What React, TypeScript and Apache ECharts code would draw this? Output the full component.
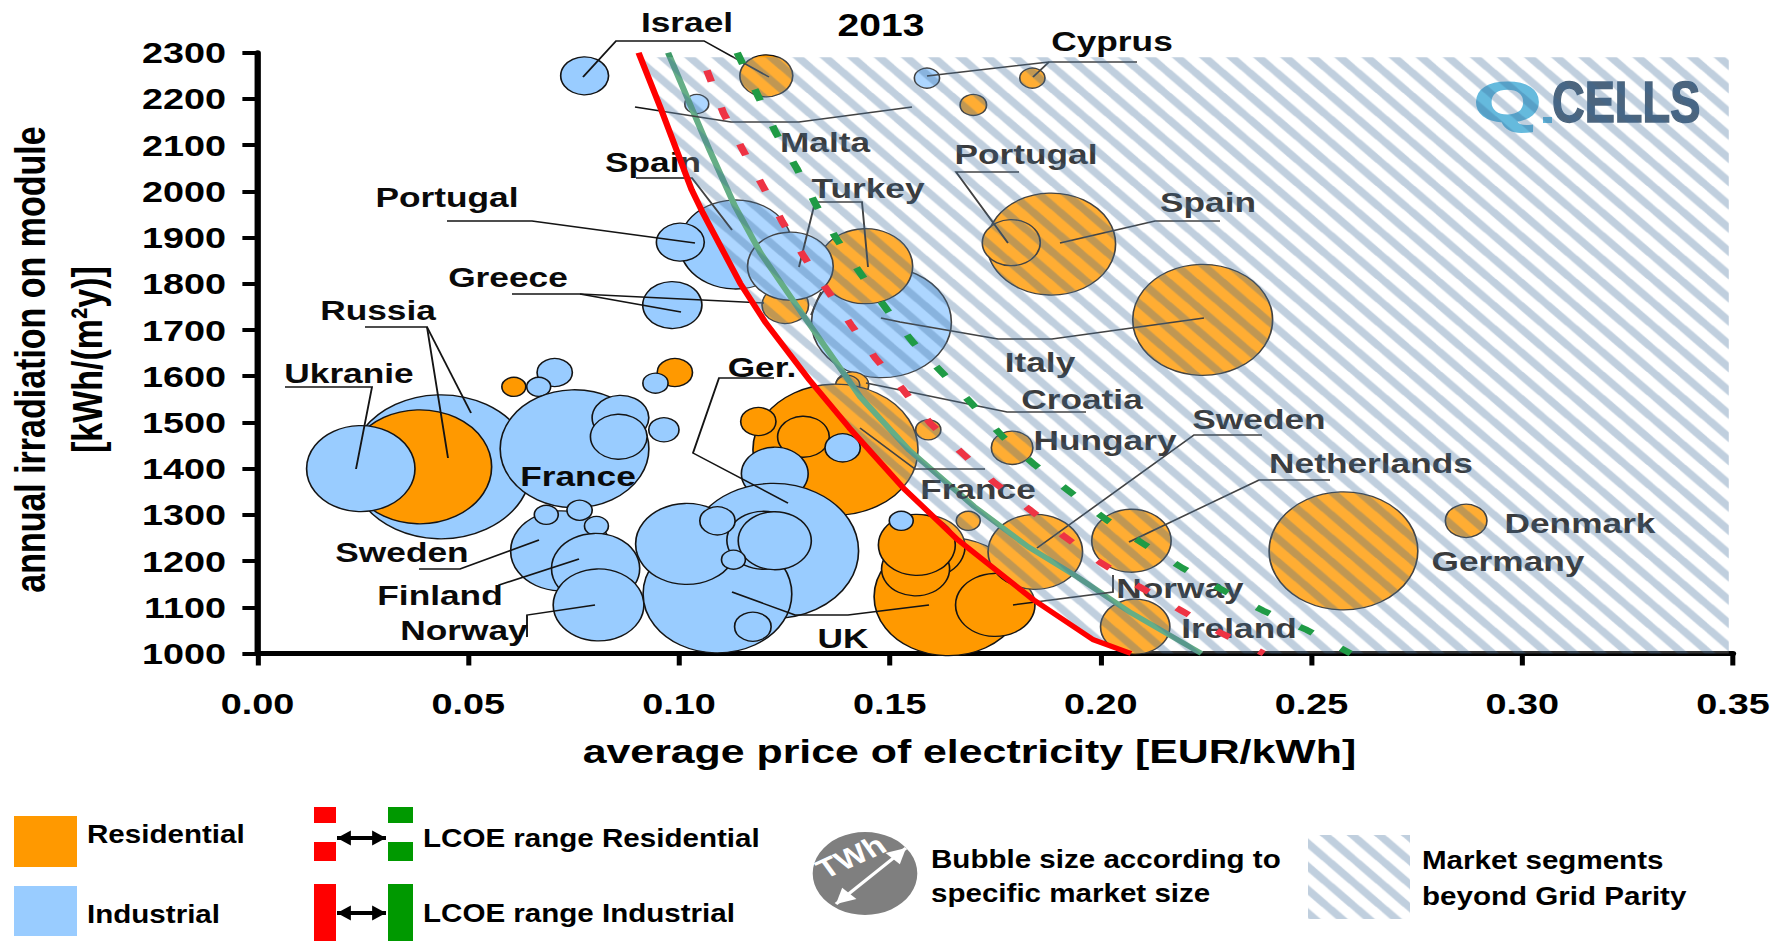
import React, { useEffect, useRef } from "react";
import * as echarts from "echarts";

// The drawing is laid out on a narrower canvas and widened by this factor.
const PAGE_WIDTH = 1787;
const PAGE_HEIGHT = 941;
const CANVAS_WIDTH = 1418;
const STRETCH = PAGE_WIDTH / CANVAS_WIDTH;

const xTickFormat = (v: number) => v.toFixed(2);
const yTickFormat = (v: number) => String(v);

// [average price EUR/kWh, irradiation kWh/(m²y), market size]
const industrialBack: number[][] = [
  [0.0435, 1404, 144], // Russia
  [0.148, 1717, 111], // Italy
  [0.1134, 1885, 89], // Spain
];

const residential: number[][] = [
  [0.1207, 2250, 42], // Israel
  [0.1838, 2245, 20], // Cyprus
  [0.1698, 2187, 21], // Malta
  [0.1883, 1886, 102], // Spain
  [0.1788, 1889, 46], // Portugal
  [0.2242, 1722, 111], // Italy
  [0.1442, 1838, 75], // Turkey
  [0.1252, 1754, 37], // Greece
  [0.1411, 1581, 26], // Croatia
  [0.14, 1581, 19],
  [0.1371, 1441, 131], // France
  [0.1188, 1502, 28],
  [0.1295, 1469, 41],
  [0.1591, 1484, 20],
  [0.179, 1445, 33], // Hungary
  [0.2073, 1244, 63], // Netherlands
  [0.2576, 1222, 118], // Germany
  [0.2867, 1287, 33], // Denmark
  [0.2082, 1058, 55], // Ireland
  [0.1639, 1123, 118], // UK
  [0.175, 1105, 63], // Norway
  [0.1584, 1231, 63],
  [0.1561, 1183, 54],
  [0.1564, 1235, 61],
  [0.1686, 1287, 19],
  [0.1845, 1220, 75], // Sweden
  [0.0608, 1577, 19],
  [0.099, 1608, 28],
  [0.0385, 1404, 114], // Russia
];

const industrialFront: number[][] = [
  [0.0776, 2250, 38], // Israel
  [0.1042, 2189, 19], // Malta
  [0.1588, 2245, 20], // Cyprus
  [0.1003, 1890, 38], // Portugal
  [0.1264, 1838, 68], // Turkey
  [0.0984, 1754, 47], // Greece
  [0.0705, 1608, 28],
  [0.0667, 1577, 19],
  [0.0944, 1585, 20],
  [0.0245, 1400, 86], // Ukraine
  [0.0752, 1443, 118], // France
  [0.0861, 1510, 45],
  [0.0857, 1469, 45],
  [0.0964, 1484, 24],
  [0.072, 1222, 80], // Sweden
  [0.0685, 1300, 19],
  [0.0764, 1310, 20],
  [0.0804, 1276, 19],
  [0.0802, 1184, 70], // Finland
  [0.0809, 1105, 72], // Norway
  [0.1227, 1389, 53],
  [0.1224, 1222, 135], // Germany
  [0.1091, 1129, 118], // UK
  [0.1018, 1237, 81],
  [0.12, 1245, 58],
  [0.1227, 1244, 58],
  [0.1091, 1287, 28],
  [0.1129, 1203, 19],
  [0.1175, 1058, 29],
  [0.1388, 1445, 28],
  [0.1527, 1287, 19],
];

// LCOE boundaries as [price, irradiation]
const lcoeIndustrialLow: number[][] = [
  [0.0904, 2300], [0.0958, 2176], [0.103, 2003], [0.1055, 1956], [0.1145, 1801],
  [0.1206, 1715], [0.1309, 1592], [0.1404, 1488], [0.1532, 1358], [0.1661, 1246],
  [0.1841, 1116], [0.1982, 1030], [0.2072, 1000],
];
const lcoeIndustrialHigh: number[][] = [
  [0.0974, 2300], [0.1072, 2090], [0.1133, 1967], [0.1193, 1867], [0.1302, 1722],
  [0.143, 1555], [0.1546, 1440], [0.17, 1318], [0.1828, 1231], [0.1944, 1166],
  [0.2072, 1088], [0.2239, 1000],
];
const lcoeResidentialLow: number[][] = [
  [0.1066, 2262], [0.1105, 2170], [0.1151, 2090], [0.1197, 2014], [0.1245, 1934],
  [0.1296, 1859], [0.1351, 1787], [0.1408, 1711], [0.1466, 1639], [0.1532, 1570],
  [0.1596, 1498], [0.1672, 1433], [0.1745, 1372], [0.1832, 1311], [0.1914, 1253],
  [0.2001, 1196], [0.2091, 1145], [0.2191, 1093], [0.2284, 1045], [0.2387, 1000],
];
const lcoeResidentialHigh: number[][] = [
  [0.1138, 2300], [0.1188, 2205], [0.123, 2126], [0.1279, 2050], [0.1327, 1967],
  [0.1375, 1895], [0.1433, 1819], [0.1494, 1743], [0.1556, 1672], [0.1627, 1605],
  [0.1697, 1538], [0.1768, 1469], [0.1844, 1408], [0.1927, 1350], [0.2014, 1289],
  [0.2102, 1237], [0.2194, 1185], [0.229, 1137], [0.2385, 1093], [0.2489, 1051],
  [0.2593, 1000],
];

const beyondParityCorners: number[][] = [
  [0.2072, 1000], [0.349, 1000], [0.349, 2290], [0.0908, 2290],
];

// Country captions: text, centre x and y on the page
const captions: [string, number, number][] = [
  ["Israel", 687, 22], ["Cyprus", 1112, 41], ["Malta", 825, 142], ["Spain", 653, 162],
  ["Portugal", 447, 197], ["Turkey", 868, 188], ["Portugal", 1026, 154], ["Spain", 1208, 202],
  ["Greece", 508, 277], ["Russia", 378, 310], ["Ukranie", 349, 373], ["Italy", 1040, 362],
  ["Ger.", 762, 367], ["Croatia", 1082, 399], ["Hungary", 1105, 440], ["Sweden", 1259, 419],
  ["Netherlands", 1371, 463], ["France", 578, 476], ["France", 978, 489], ["Denmark", 1580, 523],
  ["Germany", 1508, 561], ["Sweden", 402, 552], ["Norway", 1180, 588], ["Finland", 440, 595],
  ["Ireland", 1239, 628], ["Norway", 464, 630], ["UK", 843, 638],
];

// Callout strokes in page pixels
const leaders: number[][][] = [
  [[583, 77], [616, 41], [704, 41], [769, 77]],
  [[635, 107], [731, 122], [799, 122], [912, 107]],
  [[636, 178], [692, 178], [732, 230]],
  [[447, 221], [532, 221], [695, 243]],
  [[799, 267], [815, 202], [862, 202], [868, 267]],
  [[512, 294], [580, 294], [764, 303]],
  [[580, 294], [681, 312]],
  [[881, 318], [900, 322], [998, 339], [1052, 339], [1204, 318]],
  [[821, 292], [811, 315]],
  [[927, 76], [1049, 62], [1137, 62]],
  [[1049, 62], [1033, 77]],
  [[1019, 172], [956, 172], [1008, 243]],
  [[1220, 221], [1155, 221], [1060, 243]],
  [[365, 327], [427, 327], [448, 458]],
  [[427, 327], [471, 413]],
  [[285, 387], [372, 387], [356, 469]],
  [[774, 378], [719, 378], [693, 453], [788, 503]],
  [[1086, 412], [1007, 412], [866, 383]],
  [[860, 428], [915, 469], [985, 469]],
  [[419, 569], [460, 569], [539, 540]],
  [[499, 605], [499, 585], [579, 559]],
  [[527, 637], [527, 615], [595, 605]],
  [[732, 592], [795, 615], [848, 615], [929, 605]],
  [[1113, 575], [1113, 592], [1013, 605]],
  [[1262, 435], [1194, 435], [1037, 548]],
  [[1330, 480], [1259, 480], [1129, 542]],
];

const FONT = "'Liberation Sans', Arial, sans-serif";
const ORANGE = "#ff9900";
const BLUE = "#99ccff";

const px = (x: number) => x / STRETCH;

const makeHatchTile = () => {
  const w = 21.5;
  const h = 23.25;
  const thick = 10;
  const k = 4;
  const c = document.createElement("canvas");
  c.width = Math.round(w * k);
  c.height = Math.round(h * k);
  const ctx = c.getContext("2d")!;
  ctx.scale(k, k);
  ctx.fillStyle = "rgba(255,255,255,0.2)";
  ctx.fillRect(0, 0, w, h);
  ctx.fillStyle = "rgba(58,106,153,0.32)";
  for (let i = -1; i <= 1; i++) {
    ctx.beginPath();
    ctx.moveTo(0, i * h - thick / 2);
    ctx.lineTo(w, i * h + h - thick / 2);
    ctx.lineTo(w, i * h + h + thick / 2);
    ctx.lineTo(0, i * h + thick / 2);
    ctx.closePath();
    ctx.fill();
  }
  return { image: c, repeat: "repeat", imageWidth: w, imageHeight: h } as any;
};

const text = (
  s: string,
  x: number,
  y: number,
  size: number,
  z: number,
  extra: Record<string, unknown> = {},
  el: Record<string, unknown> = {}
) => ({
  type: "text",
  x: px(x),
  y,
  z,
  style: {
    text: s,
    fontFamily: FONT,
    fontWeight: "bold",
    fontSize: size,
    fill: "#000",
    textAlign: "left",
    textVerticalAlign: "middle",
    ...extra,
  },
  ...el,
});

const legendText = (s: string, x: number, y: number) =>
  text(s, x, y, 25.5, 1, {}, { scaleX: 0.92 });

const rect = (x1: number, y1: number, x2: number, y2: number, fill: unknown, z = 1) => ({
  type: "rect",
  z,
  shape: { x: px(x1), y: y1, width: px(x2 - x1), height: y2 - y1 },
  style: { fill },
});

// A straight shaft with a filled head at each end
const doubleArrow = (
  x1: number,
  y1: number,
  x2: number,
  y2: number,
  color: string,
  width: number,
  headLen: number,
  headWide: number,
  z: number
) => {
  const a = [px(x1), y1];
  const b = [px(x2), y2];
  const len = Math.hypot(b[0] - a[0], b[1] - a[1]);
  const ux = (b[0] - a[0]) / len;
  const uy = (b[1] - a[1]) / len;
  const head = (tip: number[], sx: number) => {
    const bx = tip[0] + sx * ux * headLen;
    const by = tip[1] + sx * uy * headLen;
    return {
      type: "polygon",
      z,
      shape: {
        points: [tip, [bx - uy * headWide, by + ux * headWide], [bx + uy * headWide, by - ux * headWide]],
      },
      style: { fill: color },
    };
  };
  return [
    {
      type: "line",
      z,
      shape: { x1: a[0], y1: a[1], x2: b[0], y2: b[1] },
      style: { stroke: color, lineWidth: width },
    },
    head(a, 1),
    head(b, -1),
  ];
};

const App = () => {
  const ref = useRef<HTMLDivElement>(null);

  useEffect(() => {
    const chart = echarts.init(ref.current!, null, { renderer: "svg" });
    const hatch = makeHatchTile();

    const bubbleSeries = (name: string, data: number[][], color: string, z: number) => ({
      name,
      type: "scatter",
      data,
      z,
      clip: false,
      symbol: "circle",
      symbolSize: (v: number[]) => v[2],
      itemStyle: { color, borderColor: "#141414", borderWidth: 1.3, opacity: 1 },
    });

    const curve = (
      name: string,
      data: number[][],
      color: string,
      width: number,
      z: number,
      dash?: number[]
    ) => ({
      name,
      type: "line",
      data,
      z,
      symbol: "none",
      clip: false,
      lineStyle: { color, width, type: dash ?? "solid", cap: "butt", join: "round" },
    });

    const graphicElements: any[] = [
      text("2013", 881, 25, 31, 12, { textAlign: "center" }),
      ...leaders.map((pts) => ({
        type: "polyline",
        z: 6,
        shape: { points: pts.map(([x, y]) => [px(x), y]) },
        style: { stroke: "#141414", lineWidth: 1.5, fill: "none" },
      })),
      ...captions.map(([s, x, y]) =>
        text(s, x, y, 28, 7, { textAlign: "center", fill: "#0a0a0a" })
      ),

      // Vendor wordmark, lying under the hatching
      text("Q", 1474, 101, 56, 7, { fill: "#3fa9d5", stroke: "#3fa9d5", lineWidth: 2 }, { scaleX: 1.22 }),
      rect(1543, 117, 1552, 123, "#3fa9d5", 7),
      text("CELLS", 1552, 102, 57, 7, { fill: "#1f3f5e", stroke: "#1f3f5e", lineWidth: 1.5 }, { scaleX: 0.63 }),

      // Legend
      rect(14, 816, 77, 867, ORANGE),
      rect(14, 886, 77, 936, BLUE),
      legendText("Residential", 87, 834),
      legendText("Industrial", 87, 914),

      rect(314, 807, 336, 823, "#ff0000"),
      rect(314, 842, 336, 861, "#ff0000"),
      rect(388, 807, 413, 823, "#009900"),
      rect(388, 842, 413, 861, "#009900"),
      rect(314, 884, 336, 941, "#ff0000"),
      rect(388, 884, 413, 941, "#009900"),
      ...doubleArrow(337, 838, 386, 838, "#000", 4, 11, 7.5, 1),
      ...doubleArrow(337, 913, 386, 913, "#000", 4, 11, 7.5, 1),
      legendText("LCOE range Residential", 423, 838),
      legendText("LCOE range Industrial", 423, 913),

      {
        type: "circle",
        z: 1,
        shape: { cx: px(865), cy: 873.5, r: 41.5 },
        style: { fill: "#7f7f7f" },
      },
      ...doubleArrow(836, 904, 906, 848, "#fff", 3, 15, 8, 2),
      text(
        "TWh",
        851,
        857,
        27,
        2,
        { textAlign: "center", fill: "#fff" },
        { rotation: (30 * Math.PI) / 180 }
      ),
      legendText("Bubble size according to", 931, 859),
      legendText("specific market size", 931, 893.5),

      rect(1308, 835, 1410, 919, hatch),
      legendText("Market segments", 1422, 860.5),
      legendText("beyond Grid Parity", 1422, 896),
    ];

    chart.setOption({
      animation: false,
      backgroundColor: "#ffffff",
      textStyle: { fontFamily: FONT },
      grid: {
        left: px(257.5),
        right: CANVAS_WIDTH - px(1733),
        top: 52.7,
        bottom: PAGE_HEIGHT - 653.5,
        containLabel: false,
        outerBoundsMode: "none",
      },
      xAxis: {
        type: "value",
        min: 0,
        max: 0.35,
        interval: 0.05,
        splitLine: { show: false },
        axisLine: { onZero: false, lineStyle: { color: "#000", width: 5 } },
        axisTick: { show: true, inside: false, length: 12, lineStyle: { color: "#000", width: 4 } },
        axisLabel: {
          margin: 35,
          fontFamily: FONT,
          fontWeight: "bold",
          fontSize: 30,
          color: "#000",
          formatter: xTickFormat,
        },
        name: "average price of electricity [EUR/kWh]",
        nameLocation: "middle",
        nameGap: 81,
        nameTextStyle: {
          fontFamily: FONT,
          fontWeight: "bold",
          fontSize: 34,
          color: "#000",
          padding: [0, 41, 0, 0],
        },
      },
      yAxis: {
        type: "value",
        min: 1000,
        max: 2300,
        interval: 100,
        splitLine: { show: false },
        axisLine: { onZero: false, lineStyle: { color: "#000", width: 5 } },
        axisTick: { show: true, inside: false, length: 12, lineStyle: { color: "#000", width: 4 } },
        axisLabel: {
          margin: 25,
          fontFamily: FONT,
          fontWeight: "bold",
          fontSize: 30,
          color: "#000",
          formatter: yTickFormat,
        },
        name: "annual irradiation on module\n[kWh/(m²y)]",
        nameLocation: "middle",
        nameGap: 113,
        nameTextStyle: {
          fontFamily: FONT,
          fontWeight: "bold",
          fontSize: 34,
          lineHeight: 45,
          color: "#000",
          padding: [0, 13, 0, 0],
        },
      },
      series: [
        bubbleSeries("Industrial", industrialBack, BLUE, 2),
        bubbleSeries("Residential", residential, ORANGE, 3),
        bubbleSeries("Industrial ", industrialFront, BLUE, 4),
        curve("LCOE range Industrial (high)", lcoeIndustrialHigh, "#3f9a68", 5, 5),
        {
          name: "Market segments beyond Grid Parity",
          type: "custom",
          coordinateSystem: "cartesian2d",
          z: 8,
          clip: false,
          data: [[0.2, 1500]],
          renderItem: (_params: unknown, api: any) => ({
            type: "polygon",
            shape: {
              points: [...lcoeIndustrialLow.slice(1), ...beyondParityCorners].map((p) => api.coord(p)),
            },
            style: { fill: hatch, stroke: "none" },
          }),
        },
        curve("LCOE range Residential (low)", lcoeResidentialLow, "#ee3344", 6, 9, [12, 27.2]),
        curve("LCOE range Residential (high)", lcoeResidentialHigh, "#1f9b45", 6, 9, [12, 27.2]),
        curve("LCOE range Industrial (low)", lcoeIndustrialLow, "#ff0000", 5, 9),
      ],
      graphic: { elements: graphicElements },
    });

    return () => chart.dispose();
  }, []);

  return (
    <div
      style={{
        position: "fixed",
        left: 0,
        top: 0,
        width: PAGE_WIDTH,
        height: PAGE_HEIGHT,
        overflow: "hidden",
        background: "#fff",
      }}
    >
      <div
        ref={ref}
        style={{
          width: CANVAS_WIDTH,
          height: PAGE_HEIGHT,
          transform: `scaleX(${STRETCH})`,
          transformOrigin: "0 0",
        }}
      />
    </div>
  );
};

export default App;
